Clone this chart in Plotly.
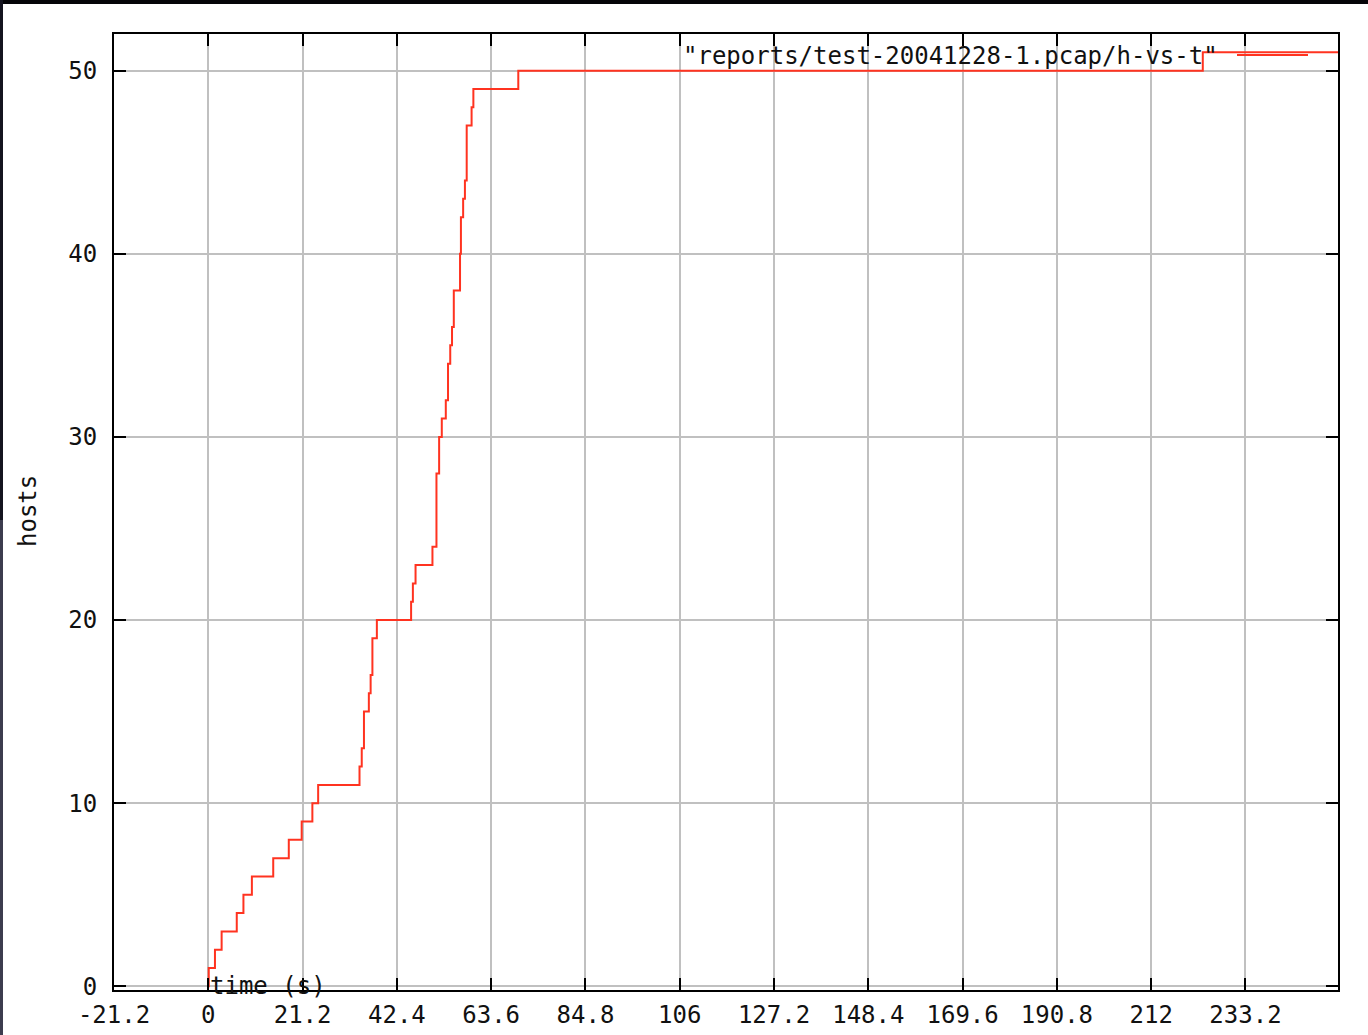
import plotly.graph_objects as go

# data (step curve: hosts seen vs time)
times = [0, 0.1, 1.5, 3.0, 6.4, 7.9, 9.8, 14.6, 18.1, 21.0, 23.4, 24.7, 34.0, 34.5,
         35.0, 36.1, 36.5, 36.9, 37.9, 45.6, 46.0, 46.6, 50.4, 51.3, 51.9, 52.5,
         53.4, 53.9, 54.4, 54.8, 55.2, 56.6, 56.8, 57.3, 57.7, 58.1, 59.2, 59.6,
         69.7, 223.6, 254.0]
hosts = [0, 1, 2, 3, 4, 5, 6, 7, 8, 9, 10, 11, 12, 13, 15, 16, 17, 19, 20, 21, 22,
         23, 24, 28, 30, 31, 32, 34, 35, 36, 38, 40, 42, 43, 44, 47, 48, 49, 50, 51, 51]

x_tickvals = [-21.2, 0, 21.2, 42.4, 63.6, 84.8, 106, 127.2, 148.4, 169.6, 190.8, 212, 233.2]
x_ticktext = ["-21.2", "0", "21.2", "42.4", "63.6", "84.8", "106", "127.2", "148.4",
              "169.6", "190.8", "212", "233.2"]
y_tickvals = [0, 10, 20, 30, 40, 50]
y_ticktext = ["0", "10", "20", "30", "40", "50"]

series_name = '"reports/test-20041228-1.pcap/h-vs-t"'

FONT = "DejaVu Sans Mono"
FS = 24
TXT = "#111111"
RED = "#ff3320"

W, H = 1368, 1035
L, R, T, B = 114, 1338, 34, 990
PW, PH = R - L, B - T


def px(x):
    return (x - L) / PW


def py(y):
    return (B - y) / PH


fig = go.Figure()
fig.add_trace(go.Scatter(
    x=times, y=hosts, mode="lines", line=dict(color=RED, width=2, shape="hv"),
    name=series_name, showlegend=False, hoverinfo="x+y"))

axis_common = dict(
    showline=True, linecolor="#000000", linewidth=2, mirror="ticks",
    ticks="inside", ticklen=12, tickwidth=2, tickcolor="#000000",
    showgrid=True, gridcolor="#c0c0c0", gridwidth=2, zeroline=False,
    automargin=False,
    tickfont=dict(family=FONT, size=FS, color=TXT),
)

fig.update_layout(
    width=W, height=H, autosize=False,
    margin=dict(l=L, r=W - R, t=T, b=H - B, pad=0, autoexpand=False),
    paper_bgcolor="#ffffff", plot_bgcolor="#ffffff",
    xaxis=dict(range=[-21.2, 254.0], tickmode="array", tickvals=x_tickvals,
               ticktext=x_ticktext, ticklabelstandoff=2, **axis_common),
    yaxis=dict(range=[-0.2, 52], tickmode="array", tickvals=y_tickvals,
               ticktext=y_ticktext, ticklabelstandoff=10, **axis_common),
    showlegend=False,
)

# legend (gnuplot style: text then line sample)
fig.add_annotation(x=px(1220), y=py(56), xref="paper", yref="paper",
                   text=series_name, showarrow=False, xanchor="right",
                   yanchor="middle", font=dict(family=FONT, size=FS, color=TXT))
fig.add_shape(type="line", xref="paper", yref="paper",
              x0=px(1237), x1=px(1308), y0=py(55), y1=py(55),
              line=dict(color=RED, width=2))

# axis labels
fig.add_annotation(x=0, y=0, xref="x", yref="y", text="time (s)", showarrow=False,
                   xanchor="left", yanchor="middle",
                   font=dict(family=FONT, size=FS, color=TXT))
fig.add_annotation(x=px(28), y=py(511), xref="paper", yref="paper", text="hosts",
                   showarrow=False, textangle=-90, xanchor="center", yanchor="middle",
                   font=dict(family=FONT, size=FS, color=TXT))

# dark screenshot frame edges
fig.add_shape(type="rect", xref="paper", yref="paper", x0=px(-2), x1=px(W + 2),
              y0=py(4), y1=py(-2), line=dict(width=0), fillcolor="#050508", layer="above")
fig.add_shape(type="rect", xref="paper", yref="paper", x0=px(-2), x1=px(3),
              y0=py(H + 2), y1=py(520), line=dict(width=0), fillcolor="#3c3c4e", layer="above")
fig.add_shape(type="rect", xref="paper", yref="paper", x0=px(-2), x1=px(3),
              y0=py(520), y1=py(-2), line=dict(width=0), fillcolor="#14141f", layer="above")

fig.write_html("out.html")
